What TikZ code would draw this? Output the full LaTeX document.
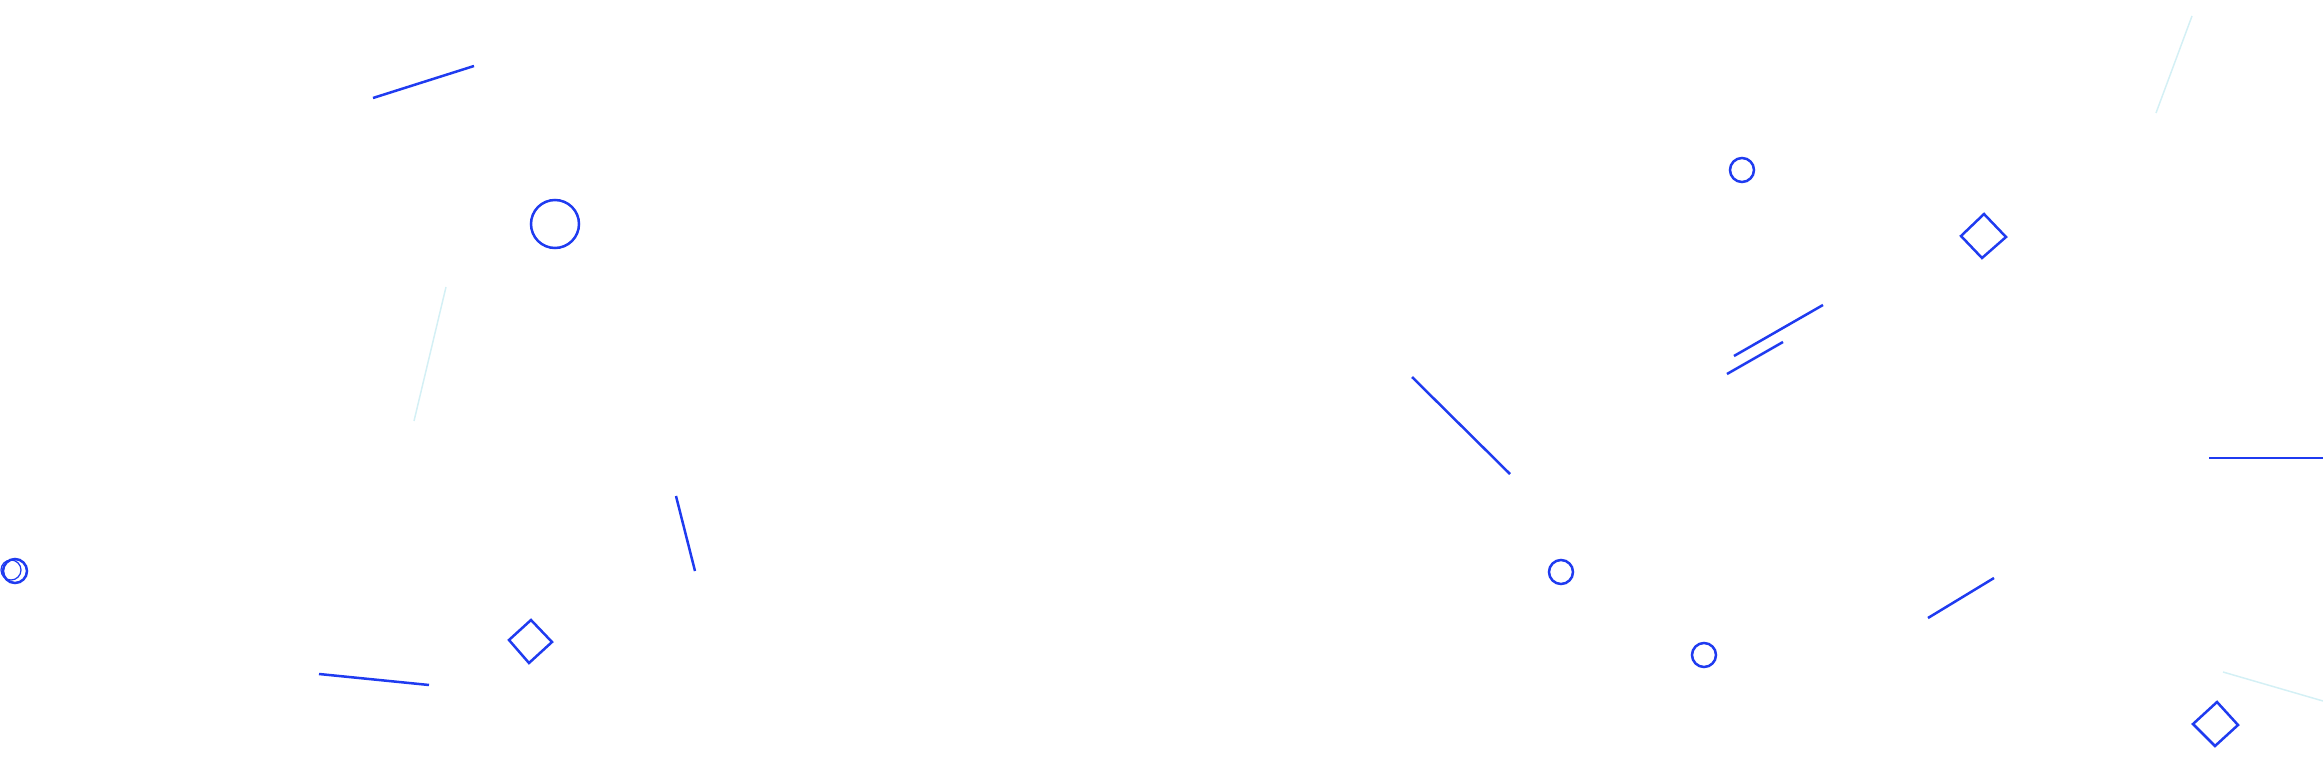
\documentclass[tikz,border=0pt]{standalone}
\definecolor{bl}{HTML}{1F3BF0}
\definecolor{fa}{HTML}{D4F0F5}
\begin{document}
\begin{tikzpicture}[x=0.01cm,y=-0.01cm,
  s/.style={draw=bl,line width=0.025cm},
  f/.style={draw=fa,line width=0.015cm}]
\useasboundingbox (0,0) rectangle (2323,776);
\draw[s] (373,98) -- (474,66);
\draw[s] (555,224) circle[radius=24];
\draw[f] (446,287) -- (414,421);
\draw[s] (676,496) -- (695,571);
\draw[s] (15,571) circle[radius=12];
\draw[s,line width=0.012cm] (11,570) circle[radius=10];
\draw[s] (531,620) -- (552,642) -- (529,663) -- (509,640) -- cycle;
\draw[s] (319,674) -- (429,685);
\draw[s] (1742,170) circle[radius=12];
\draw[s] (1984,214) -- (2006,237) -- (1982,258) -- (1961,236) -- cycle;
\draw[f] (2192,16) -- (2156,113);
\draw[s] (1734,356) -- (1823,305);
\draw[s] (1727,374) -- (1783,342);
\draw[s] (1412,377) -- (1510,474);
\draw[s] (2209,458) -- (2323,458);
\draw[s] (1561,572) circle[radius=12];
\draw[s] (1704,655) circle[radius=12];
\draw[s] (1928,618) -- (1994,578);
\draw[f] (2223,672) -- (2323,701);
\draw[s] (2217,702) -- (2238,725) -- (2215,746) -- (2193,724) -- cycle;
\end{tikzpicture}
\end{document}
